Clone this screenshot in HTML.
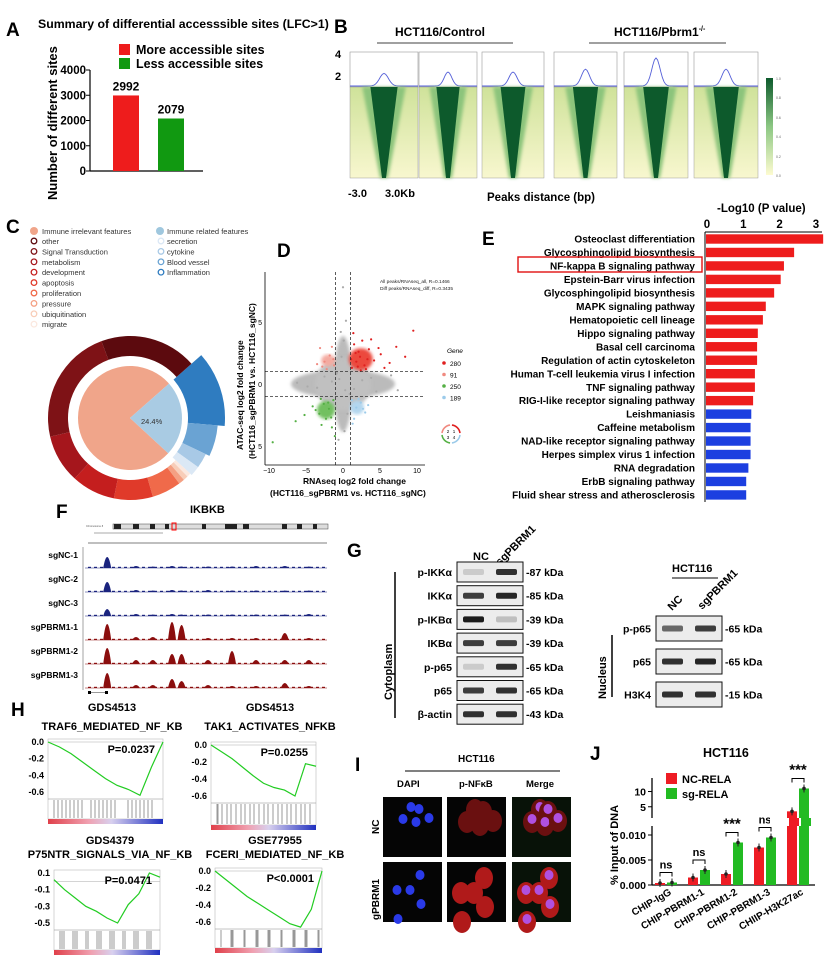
<!DOCTYPE html>
<html><head><meta charset="utf-8"><style>
body{margin:0;background:#fff}
svg{display:block;font-family:"Liberation Sans",Arial,sans-serif}
.b{font-weight:bold}
</style></head><body>
<svg id="s" width="825" height="963" viewBox="0 0 825 963" xmlns="http://www.w3.org/2000/svg">
<defs>
<linearGradient id="hmbg" x1="0" y1="0" x2="0" y2="1"><stop offset="0" stop-color="#cfe29a"/><stop offset="1" stop-color="#f8f7cf"/></linearGradient>
<linearGradient id="cb" x1="0" y1="0" x2="0" y2="1"><stop offset="0" stop-color="#0d5a2c"/><stop offset="0.5" stop-color="#8cc783"/><stop offset="1" stop-color="#fdfbd0"/></linearGradient>
<linearGradient id="gs" x1="0" y1="0" x2="1" y2="0"><stop offset="0" stop-color="#e0404a"/><stop offset="0.35" stop-color="#f0a0b0"/><stop offset="0.55" stop-color="#d8d0ee"/><stop offset="1" stop-color="#2030c0"/></linearGradient>
<filter id="bl"><feGaussianBlur stdDeviation="1.5"/></filter>
</defs>

<g class="b" font-size="19">
<text x="6" y="36">A</text><text x="334" y="33">B</text><text x="6" y="233">C</text>
<text x="277" y="257">D</text><text x="482" y="245">E</text><text x="56" y="518">F</text>
<text x="347" y="557">G</text><text x="11" y="716">H</text><text x="355" y="771">I</text><text x="590" y="760">J</text>
</g>

<!-- Panel A -->
<g id="pa">
<text x="38" y="28" font-size="12.3" class="b">Summary of differential accesssible sites (LFC&gt;1)</text>
<text transform="translate(57,200) rotate(-90)" font-size="13" class="b">Number of different sites</text>
<rect x="119" y="44" width="11" height="11" fill="#ee1c1c"/>
<text x="136" y="54" font-size="12.5" class="b">More accessible sites</text>
<rect x="119" y="58" width="11" height="11" fill="#119911"/>
<text x="136" y="68" font-size="12.5" class="b">Less accessible sites</text>
</g>

<!-- Panel B -->
<g>
<text x="395" y="36" font-size="12" class="b">HCT116/Control</text>
<line x1="377" y1="43" x2="513" y2="43" stroke="#000" stroke-width="0.8"/>
<text x="614" y="36" font-size="12" class="b">HCT116/Pbrm1<tspan font-size="7" dy="-5">-/-</tspan></text>
<line x1="589" y1="43" x2="726" y2="43" stroke="#000" stroke-width="0.8"/>
<text x="335" y="58" font-size="11" class="b">4</text><text x="335" y="80" font-size="11" class="b">2</text>
<g id="bprof"></g>
<rect x="766" y="78" width="7" height="97" fill="url(#cb)"/>
<g font-size="3.5" fill="#666"><text x="776" y="80">1.0</text><text x="776" y="99">0.8</text><text x="776" y="119">0.6</text><text x="776" y="138">0.4</text><text x="776" y="158">0.2</text><text x="776" y="177">0.0</text></g>
<text x="348" y="197" font-size="11" class="b">-3.0</text><text x="385" y="197" font-size="11" class="b">3.0Kb</text>
<text x="487" y="201" font-size="11.5" class="b">Peaks distance (bp)</text>
</g>

<!-- Panel C -->
<g id="pc">
<g font-size="7.5" fill="#333" id="cleg"></g>
<text id="c-pct" x="141" y="424" font-size="7.5" fill="#333">24.4%</text>
</g>

<!-- Panel D -->
<g id="pd">
<text x="380" y="283" font-size="4.8" fill="#222">All peaks/RNAseq_all, R=0.1466</text>
<text x="380" y="290" font-size="4.8" fill="#222">Diff peaks/RNAseq_diff, R=0.3435</text>
<text x="447" y="353" font-size="6.5" font-style="italic">Gene</text>
<text transform="translate(243,450) rotate(-90)" font-size="8.5" class="b">ATAC-seq log2 fold change</text>
<text transform="translate(255,459) rotate(-90)" font-size="8.5" class="b">(HCT116_sgPBRM1 vs. HCT116_sgNC)</text>
<text x="303" y="484" font-size="8.5" class="b">RNAseq log2 fold change</text>
<text x="270" y="496" font-size="8.5" class="b">(HCT116_sgPBRM1 vs. HCT116_sgNC)</text>
</g>

<!-- Panel E -->
<g id="pe">
<text x="717" y="212" font-size="11.5" class="b">-Log10 (P value)</text>
</g>

<!-- Panel F -->
<g id="pf">
<text x="190" y="513" font-size="11" class="b">IKBKB</text>
<text x="86" y="527" font-size="2.5" fill="#555">Chromosome 8</text>
<rect x="113" y="524" width="215" height="5" fill="#ddd" stroke="#444" stroke-width="0.5"/>
<g fill="#222"><rect x="114" y="524" width="7" height="5"/><rect x="133" y="524" width="6" height="5"/><rect x="150" y="524" width="5" height="5"/><rect x="165" y="524" width="4" height="5"/><rect x="202" y="524" width="4" height="5"/><rect x="225" y="524" width="12" height="5"/><rect x="243" y="524" width="6" height="5"/><rect x="282" y="524" width="5" height="5"/><rect x="297" y="524" width="5" height="5"/><rect x="313" y="524" width="4" height="5"/></g>
<rect x="172" y="523" width="4" height="7" fill="none" stroke="red" stroke-width="1"/>
<line x1="94" y1="533" x2="163" y2="533" stroke="#555" stroke-width="0.5"/>
<line x1="88" y1="543" x2="327" y2="543" stroke="#555" stroke-width="0.8"/>
<line x1="83" y1="547" x2="83" y2="690" stroke="#666" stroke-width="0.6"/>
<g id="ftracks"></g>
<rect x="88" y="691" width="3" height="3" fill="#000"/><rect x="105" y="691" width="3" height="3" fill="#000"/>
<line x1="91" y1="692.5" x2="105" y2="692.5" stroke="#000" stroke-width="0.4"/>
</g>

<!-- Panel G -->
<g id="pg">
<text x="473" y="560" font-size="11" class="b">NC</text>
<text transform="translate(500,566) rotate(-45)" font-size="11" class="b">sgPBRM1</text>
<text transform="translate(392,700) rotate(-90)" font-size="11" class="b">Cytoplasm</text>
<line x1="395" y1="572" x2="395" y2="718" stroke="#000" stroke-width="1.5"/>
<text x="672" y="572" font-size="11" class="b">HCT116</text>
<line x1="672" y1="578" x2="718" y2="578" stroke="#000"/>
<text transform="translate(672,611) rotate(-45)" font-size="11" class="b">NC</text>
<text transform="translate(702,610) rotate(-45)" font-size="11" class="b">sgPBRM1</text>
<text transform="translate(606,699) rotate(-90)" font-size="11" class="b">Nucleus</text>
<line x1="612" y1="635" x2="612" y2="697" stroke="#000" stroke-width="1.5"/>
<g id="gblots"></g>
</g>

<!-- Panel H -->
<g id="ph"></g>

<!-- Panel I -->
<g id="pi">
<text x="458" y="762" font-size="10" class="b">HCT116</text>
<line x1="405" y1="771" x2="560" y2="771" stroke="#000"/>
<text x="397" y="787" font-size="9.5" class="b">DAPI</text>
<text x="459" y="787" font-size="9.5" class="b">p-NFκB</text>
<text x="526" y="787" font-size="9.5" class="b">Merge</text>
<text transform="translate(379,834) rotate(-90)" font-size="10" class="b">NC</text>
<text transform="translate(379,920) rotate(-90)" font-size="10" class="b">gPBRM1</text>
<g id="itiles"></g>
</g>

<!-- Panel J -->
<g id="pj">
<text x="703" y="757" font-size="12.5" class="b">HCT116</text>
<text transform="translate(618,885) rotate(-90)" font-size="11" class="b">% Input of DNA</text>
<rect x="666" y="773" width="11" height="11" fill="#ee1c24"/>
<text x="682" y="783" font-size="11" class="b">NC-RELA</text>
<rect x="666" y="788" width="11" height="11" fill="#22bb22"/>
<text x="682" y="798" font-size="11" class="b">sg-RELA</text>
</g>
</svg>
<script>
const NS='http://www.w3.org/2000/svg';
function mk(p,t,a){const e=document.createElementNS(NS,t);for(const k in a)e.setAttribute(k,a[k]);p.appendChild(e);return e;}
function tx(p,x,y,s,a){const e=mk(p,'text',Object.assign({x:x,y:y},a||{}));e.textContent=s;return e;}
const $=id=>document.getElementById(id);

// ===== Panel A data =====
const aCategories=['More accessible','Less accessible'];
const aValues=[2992,2079];
const aTicks=[0,1000,2000,3000,4000];
const aColors=['#ee1c1c','#119911'];
(function(){const g=$('pa');const y=v=>171-v/4000*101;
mk(g,'line',{x1:90,y1:70,x2:90,y2:171,stroke:'#000','stroke-width':1.2});
mk(g,'line',{x1:90,y1:171,x2:203,y2:171,stroke:'#000','stroke-width':1.2});
aTicks.forEach(t=>{mk(g,'line',{x1:86,y1:y(t),x2:90,y2:y(t),stroke:'#000'});tx(g,86,y(t)+4,String(t),{'font-size':11.5,'font-weight':'bold','text-anchor':'end'});});
aValues.forEach((v,i)=>{const x=113+i*45;const r=mk(g,'rect',{x:x,y:y(v),width:26,height:171-y(v),fill:aColors[i]});


tx(g,x+13,y(v)-5,String(v),{'font-size':12,'font-weight':'bold','text-anchor':'middle'});});})();

// ===== Panel B profiles =====
const bPeaks=[0.45,0.5,0.5,0.6,1.0,0.6];
(function(){const g=$('bprof');const xs=[350,419,482,554,624,694];const w=[68,58,62,63,64,64];
xs.forEach((x,i)=>{const W=w[i];mk(g,'rect',{x:x,y:52,width:W,height:35,fill:'#fff',stroke:'#999','stroke-width':0.6});
let d='';for(let k=0;k<=40;k++){const u=(k-20)/20;const v=Math.exp(-u*u*30);d+=(k?'L':'M')+(x+k*W/40)+','+(86-v*bPeaks[i]*28);}
mk(g,'path',{d:d,fill:'none',stroke:'#5560d8','stroke-width':0.9});
mk(g,'rect',{x:x,y:87,width:W,height:91,fill:'url(#hmbg)',stroke:'#888','stroke-width':0.4});
const c=x+W/2;
mk(g,'path',{d:`M${c-W*0.32},87 L${c+W*0.32},87 L${c+4},178 L${c-4},178 Z`,fill:'#8cc47c',filter:'url(#bl)'});
const h=mk(g,'path',{d:`M${c-W*0.2},87 L${c+W*0.2},87 L${c+2},178 L${c-2},178 Z`,fill:'#0d5a2c'});
});})();

// ===== Panel C donut =====
const cIrrelevant=['other','Signal Transduction','metabolism','development','apoptosis','proliferation','pressure','ubiquitination','migrate'];
const cIrrColors=['#5c0a0e','#7e1216','#a5161c','#c41e1e','#e03a2a','#f06a4a','#f4a083','#f8cdb8','#fbe8df'];
const cIrrValues=[20,24,10,9,8,6,1.2,1,0.8];
const cRel=['secretion','cytokine','Blood vessel','Inflammation'];
const cRelColors=['#dbe8f5','#a8c9e6','#6aa3d3','#2f7cc0'];
const cRelValues=[2,3,6,13.4];
(function(){const g=$('cleg');
mk(g,'circle',{cx:34,cy:231,r:4,fill:'#f0a58a'});tx(g,42,234,'Immune irrelevant features');
cIrrelevant.forEach((n,i)=>{mk(g,'circle',{cx:34,cy:241+i*10.4,r:2.8,fill:'none',stroke:cIrrColors[i],'stroke-width':1.3});tx(g,42,244+i*10.4,n);});
mk(g,'circle',{cx:160,cy:231,r:4,fill:'#9fc7de'});tx(g,167,234,'Immune related features');
cRel.forEach((n,i)=>{mk(g,'circle',{cx:161,cy:241+i*10.4,r:2.8,fill:'none',stroke:cRelColors[i],'stroke-width':1.3});tx(g,167,244+i*10.4,n);});
const pc=$('pc');const cx=130,cy=418;
function arc(r0,r1,a0,a1,fill,p){const f=a=>[Math.sin(a),-Math.cos(a)];const [s0,c0]=f(a0),[s1,c1]=f(a1);const L=a1-a0>Math.PI?1:0;
return mk(p,'path',{d:`M${cx+r1*s0},${cy+r1*c0} A${r1},${r1} 0 ${L} 1 ${cx+r1*s1},${cy+r1*c1} L${cx+r0*s1},${cy+r0*c1} A${r0},${r0} 0 ${L} 0 ${cx+r0*s0},${cy+r0*c0} Z`,fill:fill});}
const tot=cIrrValues.reduce((a,b)=>a+b,0)+cRelValues.reduce((a,b)=>a+b,0);
let start=Math.PI*0.27;let ang=start;
[...cRelValues].reverse().forEach((v,j)=>{const i=cRelValues.length-1-j;const da=v/tot*2*Math.PI;const s=arc(58,i==3?95:(i==2?88:84),ang,ang+da,cRelColors[i],pc);

ang+=da;});
const relEnd=ang;
[...cIrrValues].reverse().forEach((v,j)=>{const i=cIrrValues.length-1-j;const da=v/tot*2*Math.PI;const s=arc(62,82,ang,ang+da,cIrrColors[i],pc);

ang+=da;});
arc(0,52,relEnd,start+2*Math.PI,'#f0a58a',pc);
arc(0,52,start,relEnd,'#a9cbe3',pc);
pc.appendChild($('c-pct'));})();

// ===== Panel D scatter =====
const dRedX=[1.2,1.8,2.3,2.9,3.5,1.5,2.1,4.2,5.1,6.3,7.2,8.4,9.5,1.1,2.6,3.1,4.8,1.4,2.0,3.8,5.6,1.7,2.4,3.3];
const dRedY=[1.3,1.8,2.2,1.5,2.8,3.2,2.6,1.9,2.4,1.7,3.0,2.2,4.3,2.0,3.5,1.2,2.9,4.1,1.4,3.6,1.3,2.5,1.1,2.0];
const dPinkX=[-1.2,-1.8,-2.5,-3.1,-1.5,-2.2,-2.8,-1.3,-3.5];
const dPinkY=[1.5,2.3,1.8,2.9,3.0,1.2,1.4,2.0,1.6];
const dGreenX=[-1.3,-1.9,-2.6,-3.2,-4.1,-1.5,-2.3,-3.0,-5.2,-6.4,-1.1,-2.0,-2.9,-3.7,-1.6,-9.5];
const dGreenY=[-1.3,-2.0,-1.6,-2.4,-1.8,-3.5,-2.8,-1.2,-2.5,-3.0,-4.2,-1.5,-3.3,-2.1,-2.7,-4.7];
const dBlueX=[1.2,1.8,2.4,3.0,1.5,2.1,2.7,1.3,3.4];
const dBlueY=[-1.3,-1.9,-1.5,-2.3,-2.8,-1.2,-2.0,-3.2,-1.7];
const dGreyX=[-0.5,0.3,-0.2,0.6,-0.8,0.1,-1.5,1.5,-2.5,2.6,-3.5,3.8,-4.8,4.5,-6.2,6.5,0.2,-0.3,0.4,-0.6,0.9,-0.9,0.0,-5.5,7.4,1.0];
const dGreyY=[0.4,-0.5,2.2,-2.4,0.9,3.5,0.2,-0.4,0.6,0.3,-0.3,0.5,-0.2,-0.6,0.1,0.7,-3.8,4.2,5.1,-4.5,-0.8,0.8,7.8,-1.0,-0.5,6.5];
const dXTicks=[-10,-5,0,5,10];const dYTicks=[5,0,-5];const dYLabels=['5','0','5'];
const dLegendVals=['280','91','250','189'];
(function(){const g=$('pd');const X=v=>343+v*7.4,Y=v=>384-v*12.4;
mk(g,'ellipse',{cx:X(0),cy:Y(0),rx:52,ry:14,fill:'#bbb',filter:'url(#bl)'});
mk(g,'ellipse',{cx:X(0),cy:Y(0),rx:9,ry:48,fill:'#bbb',filter:'url(#bl)'});
mk(g,'ellipse',{cx:X(0),cy:Y(0),rx:28,ry:26,fill:'#c0c0c0',filter:'url(#bl)'});
mk(g,'ellipse',{cx:X(2.4),cy:Y(2.0),rx:12,ry:11,fill:'#ec4a3e',filter:'url(#bl)'});
mk(g,'ellipse',{cx:X(-2.0),cy:Y(1.9),rx:7,ry:6,fill:'#f4aaa0',filter:'url(#bl)'});
mk(g,'ellipse',{cx:X(-2.3),cy:Y(-2.1),rx:9,ry:9,fill:'#72c060',filter:'url(#bl)'});
mk(g,'ellipse',{cx:X(1.9),cy:Y(-1.9),rx:7,ry:7,fill:'#b2d6ee',filter:'url(#bl)'});
const sets=[[dGreyX,dGreyY,'#aaa'],[dRedX,dRedY,'#e02020'],[dPinkX,dPinkY,'#f08a80'],[dGreenX,dGreenY,'#55b045'],[dBlueX,dBlueY,'#9ccbea']];
sets.forEach(([xs,ys,c])=>xs.forEach((v,i)=>{const p=mk(g,'circle',{cx:X(v),cy:Y(ys[i]),r:1.1,fill:c});

}));
[-1,1].forEach(v=>{mk(g,'line',{x1:X(v),y1:272,x2:X(v),y2:465,stroke:'#333','stroke-dasharray':'3,2','stroke-width':0.8});
mk(g,'line',{x1:265,y1:Y(v),x2:425,y2:Y(v),stroke:'#333','stroke-dasharray':'3,2','stroke-width':0.8});});
mk(g,'line',{x1:265,y1:272,x2:265,y2:465,stroke:'#000','stroke-width':0.8});
mk(g,'line',{x1:265,y1:465,x2:425,y2:465,stroke:'#000','stroke-width':0.8});
dXTicks.forEach(t=>tx(g,X(t),473,t<0?'−'+(-t):String(t),{'font-size':7,'text-anchor':'middle'}));
dYTicks.forEach((t,i)=>tx(g,262,Y(t)+3,dYLabels[i],{'font-size':7,'text-anchor':'end'}));
const lc=['#e02020','#f08a80','#55b045','#9ccbea'];
dLegendVals.forEach((v,i)=>{mk(g,'circle',{cx:444,cy:363+i*11.5,r:1.8,fill:lc[i]});tx(g,450,366+i*11.5,v,{'font-size':6.5});});
const cx=451,cy=434;[[0,90,'#e02020'],[90,180,'#9ccbea'],[180,270,'#55b045'],[270,360,'#f08a80']].forEach(([a0,a1,c])=>{const r=9,f=a=>[cx+r*Math.sin(a*Math.PI/180),cy-r*Math.cos(a*Math.PI/180)];const p0=f(a0+6),p1=f(a1-6);mk(g,'path',{d:`M${p0[0]},${p0[1]} A${r},${r} 0 0 1 ${p1[0]},${p1[1]}`,fill:'none',stroke:c,'stroke-width':1.6});});
[['2',-3,-1],['1',3,-1],['3',-3,5],['4',3,5]].forEach(([s,dx,dy])=>tx(g,cx+dx,cy+dy,s,{'font-size':4.5,'text-anchor':'middle'}));})();

// ===== Panel E =====
const ePathways=['Osteoclast differentiation','Glycosphingolipid biosynthesis','NF-kappa B signaling pathway','Epstein-Barr virus infection','Glycosphingolipid biosynthesis','MAPK signaling pathway','Hematopoietic cell lineage','Hippo signaling pathway','Basal cell carcinoma','Regulation of actin cytoskeleton','Human T-cell leukemia virus I infection','TNF signaling pathway','RIG-I-like receptor signaling pathway','Leishmaniasis','Caffeine metabolism','NAD-like receptor signaling pathway','Herpes simplex virus 1 infection','RNA degradation','ErbB signaling pathway','Fluid shear stress and atherosclerosis'];
const eValues=[3.2,2.4,2.12,2.03,1.85,1.62,1.54,1.4,1.38,1.38,1.32,1.32,1.27,1.22,1.2,1.2,1.2,1.14,1.08,1.08];
const eUp=[1,1,1,1,1,1,1,1,1,1,1,1,1,0,0,0,0,0,0,0];
const eTicks=[0,1,2,3];
(function(){const g=$('pe');const X=v=>707+v*36.3;
mk(g,'line',{x1:705,y1:232,x2:822,y2:232,stroke:'#000'});
mk(g,'line',{x1:705,y1:232,x2:705,y2:502,stroke:'#000'});
eTicks.forEach(t=>{tx(g,X(t),228,String(t),{'font-size':11.5,'font-weight':'bold','text-anchor':'middle'});});
ePathways.forEach((n,i)=>{const yc=239+i*13.47;const r=mk(g,'rect',{x:706,y:yc-4.7,width:X(eValues[i])-706,height:9.4,fill:eUp[i]?'#ee1c1c':'#1c3fe0'});


tx(g,695,yc+3.6,n,{'font-size':10,'font-weight':'bold','text-anchor':'end'});});
mk(g,'rect',{x:518,y:257,width:184,height:15,fill:'none',stroke:'#e01010','stroke-width':1.4});})();

// ===== Panel F =====
const fSamples=['sgNC-1','sgNC-2','sgNC-3','sgPBRM1-1','sgPBRM1-2','sgPBRM1-3'];
const fPeakPos=[0.08,0.2,0.27,0.35,0.39,0.5,0.6,0.7,0.82,0.92];
const fBlue=[[11,2,1.5,2,1.5,1.5,1.5,2,2,1.5],[10,2,1.5,2,1.5,2,1.5,1.5,1.5,1.5],[7,2,1.5,2,1.5,1.5,1.5,1.5,1.5,2]];
const fRed=[[16,3,3,18,15,2,2,2,7,2],[16,4,4,10,10,4,13,4,4,4],[15,3,3,9,7,3,2,2,5,2]];
(function(){const g=$('ftracks');
fSamples.forEach((s,i)=>{const base=568+i*24;tx(g,78,base-10,s,{'font-size':8.5,'font-weight':'bold','text-anchor':'end'});
const hs=i<3?fBlue[i]:fRed[i-3];const col=i<3?'#1a237e':'#8b0e0e';
mk(g,'line',{x1:85,y1:base,x2:327,y2:base,stroke:col,'stroke-width':0.6});
for(let k=0;k<40;k++){const x=88+k*6;mk(g,'rect',{x:x,y:base-1.2,width:3,height:1.2,fill:col});}
hs.forEach((h,k)=>{const x=88+fPeakPos[k]*240;const p=mk(g,'path',{d:`M${x-4},${base} Q${x},${base-h*2} ${x+4},${base} Z`,fill:col});

});});})();

// ===== Panel G =====
const gLeft=['p-IKKα','IKKα','p-IKBα','IKBα','p-p65','p65','β-actin'];
const gLeftKda=['87 kDa','85 kDa','39 kDa','39 kDa','65 kDa','65 kDa','43 kDa'];
const gLeftInt=[[0.15,0.85],[0.8,0.9],[0.95,0.2],[0.8,0.8],[0.15,0.85],[0.8,0.85],[0.85,0.85]];
const gRight=['p-p65','p65','H3K4'];const gRightKda=['65 kDa','65 kDa','15 kDa'];
const gRightInt=[[0.6,0.8],[0.85,0.9],[0.85,0.85]];
(function(){const g=$('gblots');
function blot(x,y,w,h,name,kda,ints){tx(g,x-5,y+h/2+4,name,{'font-size':10.5,'font-weight':'bold','text-anchor':'end'});
const b=mk(g,'rect',{x:x,y:y,width:w,height:h,fill:'#ececec',stroke:'#111','stroke-width':1});


ints.forEach((v,j)=>mk(g,'rect',{x:x+6+j*w/2,y:y+h/2-3,width:w/2-12,height:6,rx:2,fill:'#111','fill-opacity':v}));
tx(g,x+w+3,y+h/2+4,'-'+kda,{'font-size':10.5,'font-weight':'bold'});}
gLeft.forEach((n,i)=>blot(457,562+i*23.7,66,20,n,gLeftKda[i],gLeftInt[i]));
gRight.forEach((n,i)=>blot(656,616+i*33,66,25,n,gRightKda[i],gRightInt[i]));})();

// ===== Panel H GSEA =====
const hTitles=[['GDS4513','TRAF6_MEDIATED_NF_KB'],['GDS4513','TAK1_ACTIVATES_NFKB'],['GDS4379','P75NTR_SIGNALS_VIA_NF_KB'],['GSE77955','FCERI_MEDIATED_NF_KB']];
const hPvals=['P=0.0237','P=0.0255','P=0.0471','P<0.0001'];
const hTicks=[['0.0','-0.2','-0.4','-0.6'],['0.0','-0.2','-0.4','-0.6'],['0.1','-0.1','-0.3','-0.5'],['0.0','-0.2','-0.4','-0.6']];
const hTickVals=[[0,-0.2,-0.4,-0.6],[0,-0.2,-0.4,-0.6],[0.1,-0.1,-0.3,-0.5],[0,-0.2,-0.4,-0.6]];
const hCurve=[[0,-0.06,-0.14,-0.24,-0.34,-0.44,-0.52,-0.57,-0.64,-0.3,0],[0,-0.08,-0.16,-0.26,-0.36,-0.45,-0.5,-0.53,-0.6,-0.22,-0.25],[0.02,-0.1,-0.2,-0.3,-0.36,-0.44,-0.5,-0.28,-0.15,0.1,0.05],[0,-0.1,-0.2,-0.3,-0.38,-0.46,-0.54,-0.62,-0.66,-0.45,0]];
(function(){const g=$('ph');
const L=[{x:48,w:115,top:739,bot:799,tk:819,tt:[112,711,730]},{x:211,w:105,top:742,bot:803,tk:825,tt:[270,711,730]},{x:54,w:106,top:870,bot:930,tk:950,tt:[110,844,858]},{x:215,w:107,top:868,bot:929,tk:948,tt:[275,844,858]}];
hTitles.forEach((t,i)=>{const o=L[i];
tx(g,o.tt[0],o.tt[1],t[0],{'font-size':11,'font-weight':'bold','text-anchor':'middle'});
tx(g,o.tt[0],o.tt[2],t[1],{'font-size':11,'font-weight':'bold','text-anchor':'middle'});
mk(g,'rect',{x:o.x,y:o.top,width:o.w,height:o.tk-o.top,fill:'none',stroke:'#bbb','stroke-width':0.6});
const tv=hTickVals[i];const Y=v=>o.top+3+(tv[0]-v)/(tv[0]-tv[3])*(o.bot-o.top-10);
hTicks[i].forEach((l,k)=>tx(g,o.x-4,Y(tv[k])+3,l,{'font-size':9,'font-weight':'bold','text-anchor':'end'}));
mk(g,'line',{x1:o.x,y1:Y(0),x2:o.x+o.w,y2:Y(0),stroke:'#aaa','stroke-width':0.5});
mk(g,'line',{x1:o.x,y1:o.bot,x2:o.x+o.w,y2:o.bot,stroke:'#888','stroke-width':0.5});
let d='';hCurve[i].forEach((v,k)=>{d+=(k?'L':'M')+(o.x+k*o.w/10)+','+Y(v);});
const p=mk(g,'path',{d:d,fill:'none',stroke:'#22cc22','stroke-width':1.2});


tx(g,o.x+o.w-8,o.top+14,hPvals[i],{'font-size':11,'font-weight':'bold','text-anchor':'end'});
for(let k=0;k<22;k++){const xx=o.x+6+((k*37)%(o.w-8));mk(g,'line',{x1:xx,y1:o.bot+1,x2:xx,y2:o.tk-1,stroke:'#333','stroke-width':0.5});}
mk(g,'rect',{x:o.x,y:o.tk,width:o.w,height:5,fill:'url(#gs)'});});})();

// ===== Panel I tiles =====
(function(){const g=$('itiles');const xs=[383,447,512],ys=[797,862];
ys.forEach((y,r)=>xs.forEach((x,c)=>{const t=mk(g,'rect',{x:x,y:y,width:59,height:60,fill:c==2?'#081208':'#050505'});


const cells=r?[[37,13],[14,28],[27,28],[38,42],[15,57]]:[[28,10],[36,12],[20,22],[33,25],[46,21]];
cells.forEach(([dx,dy])=>{
if(c==0)mk(g,'ellipse',{cx:x+dx,cy:y+dy,rx:4.5,ry:5,fill:'#2a3ae8'});
else{mk(g,'ellipse',{cx:x+dx,cy:y+dy+3,rx:9,ry:11,fill:r?'#b01a1a':'#6a1010'});
if(c==2)mk(g,'ellipse',{cx:x+dx,cy:y+dy,rx:4.5,ry:5,fill:'#b050e0'});}});}));})();

// ===== Panel J =====
const jCategories=['CHIP-IgG','CHIP-PBRM1-1','CHIP-PBRM1-2','CHIP-PBRM1-3','CHIIP-H3K27ac'];
const jNC=[0.0004,0.0015,0.0022,0.0075,3.5];
const jSG=[0.0005,0.003,0.0085,0.0095,11];
const jSig=['ns','ns','***','ns','***'];
const jLowTicks=['0.000','0.005','0.010'];const jLowVals=[0,0.005,0.010];
const jHighTicks=['5','10'];const jHighVals=[5,10];
(function(){const g=$('pj');const base=885;
const Y=v=>v<=0.012?base-v/0.005*25:822-v*(822-790)/10.5;
mk(g,'line',{x1:652,y1:826,x2:652,y2:885,stroke:'#000','stroke-width':1.3});
mk(g,'line',{x1:652,y1:778,x2:652,y2:818,stroke:'#000','stroke-width':1.3});
mk(g,'line',{x1:652,y1:885,x2:815,y2:885,stroke:'#000','stroke-width':1.3});
jLowVals.forEach((v,i)=>{mk(g,'line',{x1:648,y1:Y(v),x2:652,y2:Y(v),stroke:'#000'});tx(g,646,Y(v)+4,jLowTicks[i],{'font-size':10.5,'font-weight':'bold','text-anchor':'end'});});
jHighVals.forEach((v,i)=>{mk(g,'line',{x1:648,y1:Y(v),x2:652,y2:Y(v),stroke:'#000'});tx(g,646,Y(v)+4,jHighTicks[i],{'font-size':10.5,'font-weight':'bold','text-anchor':'end'});});
jCategories.forEach((c,i)=>{const cx=666+i*33;
[[jNC[i],'#ee1c24',cx-6],[jSG[i],'#22bb22',cx+6]].forEach(([v,col,x])=>{
const top=Y(v);const b=mk(g,'rect',{x:x-5,y:top,width:10,height:base-top,fill:col});


mk(g,'line',{x1:x,y1:top-4,x2:x,y2:top+4,stroke:'#222'});mk(g,'circle',{cx:x,cy:top,r:1.8,fill:'#222'});});
const top=Math.min(Y(jNC[i]),Y(jSG[i]))-10;
mk(g,'path',{d:`M${cx-6},${top+4} V${top} H${cx+6} V${top+4}`,fill:'none',stroke:'#000'});
tx(g,cx,top-4,jSig[i],{'font-size':jSig[i]=='ns'?11:15,'font-weight':'bold','text-anchor':'middle'});
tx(g,0,0,c,{'font-size':10,'font-weight':'bold','text-anchor':'end',transform:`translate(${cx+6},${894}) rotate(-30)`});});
mk(g,'rect',{x:770,y:818,width:45,height:8,fill:'#fff'});
mk(g,'rect',{x:789,y:818,width:10,height:8,fill:'#ee1c24'});mk(g,'rect',{x:801,y:818,width:10,height:8,fill:'#22bb22'});})();
</script>
</body></html>
